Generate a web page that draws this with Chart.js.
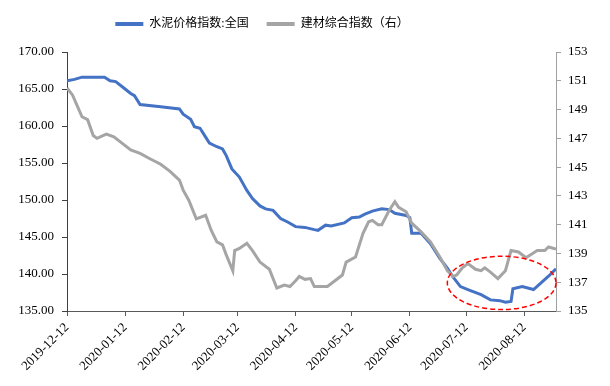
<!DOCTYPE html>
<html>
<head>
<meta charset="utf-8">
<script src="https://cdn.jsdelivr.net/npm/chart.js@4/dist/chart.umd.min.js"></script>
<style>
    html, body { margin: 0; padding: 0; background: #fff; }
    #wrap { width: 610px; height: 386px; }
</style>
</head>
<body>
<div id="wrap"><canvas id="chart" width="610" height="386"></canvas></div>
<script>
// Data: x is days since 2019-12-12
const cementName = '水泥价格指数:全国';
const cementDays = [0, 4, 8, 14, 20, 23, 26, 30, 34, 36, 39, 50, 60, 62, 66, 68, 71, 74, 76, 80,
    83, 85, 88, 92, 96, 99, 103, 106, 110, 114, 118, 122, 127, 132, 134, 138, 141, 148, 152, 156,
    159, 163, 168, 172, 175, 181, 183, 184, 189, 194, 199, 203, 206, 210, 215, 221, 226, 231, 234, 237,
    238, 243, 249, 253, 257, 261];
const cementValues = [166.1, 166.3, 166.6, 166.6, 166.6, 166.1, 166.0, 165.2, 164.4, 164.1, 162.9, 162.6, 162.3, 161.6, 160.9, 159.9, 159.7, 158.5, 157.7, 157.2,
    156.9, 156.0, 154.2, 153.1, 151.3, 150.2, 149.2, 148.8, 148.6, 147.5, 147.0, 146.4, 146.3, 146.0, 145.9, 146.6, 146.5, 146.9, 147.6, 147.7,
    148.1, 148.5, 148.8, 148.7, 148.2, 147.9, 147.6, 145.5, 145.5, 144.1, 142.1, 140.8, 139.6, 138.3, 137.8, 137.2, 136.5, 136.4, 136.2, 136.3,
    138.0, 138.3, 137.9, 138.8, 139.7, 140.7];

const buildName = '建材综合指数（右）';
const buildDays = [0, 3, 5, 8, 11, 14, 16, 21, 25, 29, 34, 39, 44, 50, 55, 60, 62, 65, 69, 74,
    77, 80, 83, 85, 88.5, 89.5, 92, 96, 99, 103, 108, 112, 116, 119, 122, 124, 127, 130, 132, 139,
    147, 149, 154, 158, 161, 163, 166, 168, 172, 175, 177, 181, 184, 189, 194, 199, 203, 206, 208, 211,
    214, 218, 221, 223, 226, 230, 234, 237, 241, 245, 251, 255, 257, 261];
const buildValues = [150.5, 150.0, 149.4, 148.5, 148.3, 147.2, 147.0, 147.3, 147.1, 146.7, 146.2, 145.95, 145.6, 145.2, 144.7, 144.1, 143.4, 142.7, 141.4, 141.65,
    140.6, 139.8, 139.6, 138.9, 137.8, 139.2, 139.35, 139.7, 139.2, 138.4, 137.9, 136.6, 136.8, 136.7, 137.1, 137.4, 137.2, 137.25, 136.7, 136.7,
    137.5, 138.4, 138.75, 140.4, 141.2, 141.3, 141.0, 141.0, 142.0, 142.6, 142.2, 141.9, 141.1, 140.5, 139.8, 138.75, 137.8, 137.4, 137.5, 138.0,
    138.3, 137.9, 137.8, 138.0, 137.7, 137.25, 137.8, 139.2, 139.1, 138.7, 139.2, 139.2, 139.45, 139.3];

const tickDays = [0, 31, 62, 91, 122, 152, 183, 213, 244];
const tickLabels = ['2019-12-12', '2020-01-12', '2020-02-12', '2020-03-12', '2020-04-12',
    '2020-05-12', '2020-06-12', '2020-07-12', '2020-08-12'];

// highlighted region (red dashed ellipse), in data units of x / left axis
const markCenter = { day: 232, value: 138.8 };
const markRadius = { days: 29, value: 3.6 };

const BLUE = '#4472C4';
const GRAY = '#A5A5A5';
const SERIF = '"Liberation Serif", "Times New Roman", serif';
const LEGEND_FONT = '"Liberation Serif", "Noto Sans CJK SC", serif';

function toPoints(days, values) {
    return days.map((d, i) => ({ x: d, y: values[i] }));
}

// keep the plot area where the reference has it, legend sits left of centre
const fixedLegend = {
    id: 'fixedLegend',
    beforeInit(chart) {
        const legend = chart.legend;
        if (!legend) return;
        const fit = legend.fit;
        legend.fit = function () {
            fit.call(this);
            this.height = 52;
        };
    },
    afterLayout(chart) {
        const legend = chart.legend;
        if (!legend) return;
        legend.left -= 43;
        legend.right -= 43;
    }
};

const ellipseMark = {
    id: 'ellipseMark',
    afterDatasetsDraw(chart) {
        const x = chart.scales.x;
        const y = chart.scales.y;
        const cx = x.getPixelForValue(markCenter.day);
        const cy = y.getPixelForValue(markCenter.value);
        const rx = Math.abs(x.getPixelForValue(markCenter.day + markRadius.days) - cx);
        const ry = Math.abs(y.getPixelForValue(markCenter.value + markRadius.value) - cy);
        const ctx = chart.ctx;
        ctx.save();
        ctx.strokeStyle = '#FF0000';
        ctx.lineWidth = 1.5;
        ctx.setLineDash([5, 3]);
        ctx.beginPath();
        ctx.ellipse(cx, cy, rx, ry, 0, 0, Math.PI * 2);
        ctx.stroke();
        ctx.restore();
    }
};

const ctx = document.getElementById('chart').getContext('2d');
new Chart(ctx, {
    type: 'line',
    data: {
        datasets: [
            {
                label: cementName,
                data: toPoints(cementDays, cementValues),
                borderColor: BLUE,
                backgroundColor: BLUE,
                borderWidth: 3,
                pointRadius: 0,
                yAxisID: 'y',
                order: 1
            },
            {
                label: buildName,
                data: toPoints(buildDays, buildValues),
                borderColor: GRAY,
                backgroundColor: GRAY,
                borderWidth: 3,
                pointRadius: 0,
                yAxisID: 'y1',
                order: 0
            }
        ]
    },
    options: {
        responsive: false,
        animation: false,
        layout: { padding: 0 },
        plugins: {
            tooltip: { enabled: false },
            legend: {
                position: 'top',
                align: 'center',
                labels: {
                    boxWidth: 28,
                    boxHeight: 4,
                    padding: 18,
                    color: '#000',
                    font: { family: LEGEND_FONT, size: 12 },
                    generateLabels(chart) {
                        return chart.data.datasets.map((ds, i) => ({
                            text: ds.label,
                            fillStyle: ds.borderColor,
                            strokeStyle: ds.borderColor,
                            lineWidth: 0,
                            fontColor: '#000',
                            datasetIndex: i
                        }));
                    }
                }
            }
        },
        scales: {
            x: {
                type: 'linear',
                min: 0,
                max: 261,
                afterBuildTicks(scale) {
                    scale.ticks = tickDays.map(v => ({ value: v }));
                },
                afterFit(scale) { scale.height = 75; },
                grid: { drawOnChartArea: false, drawTicks: true, tickLength: 5, color: '#595959' },
                border: { display: true, color: '#595959', width: 1 },
                ticks: {
                    autoSkip: false,
                    minRotation: 45,
                    maxRotation: 45,
                    padding: 4,
                    color: '#000',
                    font: { family: SERIF, size: 13 },
                    callback(value) {
                        const i = tickDays.indexOf(value);
                        return i >= 0 ? tickLabels[i] : '';
                    }
                }
            },
            y: {
                position: 'left',
                min: 135,
                max: 170,
                afterFit(scale) { scale.width = 67; },
                grid: { drawOnChartArea: false, drawTicks: true, tickLength: 5, color: '#404040' },
                border: { display: true, color: '#404040', width: 1 },
                ticks: {
                    stepSize: 5,
                    padding: 8,
                    color: '#000',
                    font: { family: SERIF, size: 13 },
                    callback: v => v.toFixed(2)
                }
            },
            y1: {
                position: 'right',
                min: 135,
                max: 153,
                afterFit(scale) { scale.width = 54; },
                grid: { drawOnChartArea: false, drawTicks: true, tickLength: 5, color: '#A0A0A0' },
                border: { display: true, color: '#A0A0A0', width: 1 },
                ticks: {
                    stepSize: 2,
                    padding: 7,
                    color: '#000',
                    font: { family: SERIF, size: 13 }
                }
            }
        }
    },
    plugins: [fixedLegend, ellipseMark]
});
</script>
</body>
</html>
